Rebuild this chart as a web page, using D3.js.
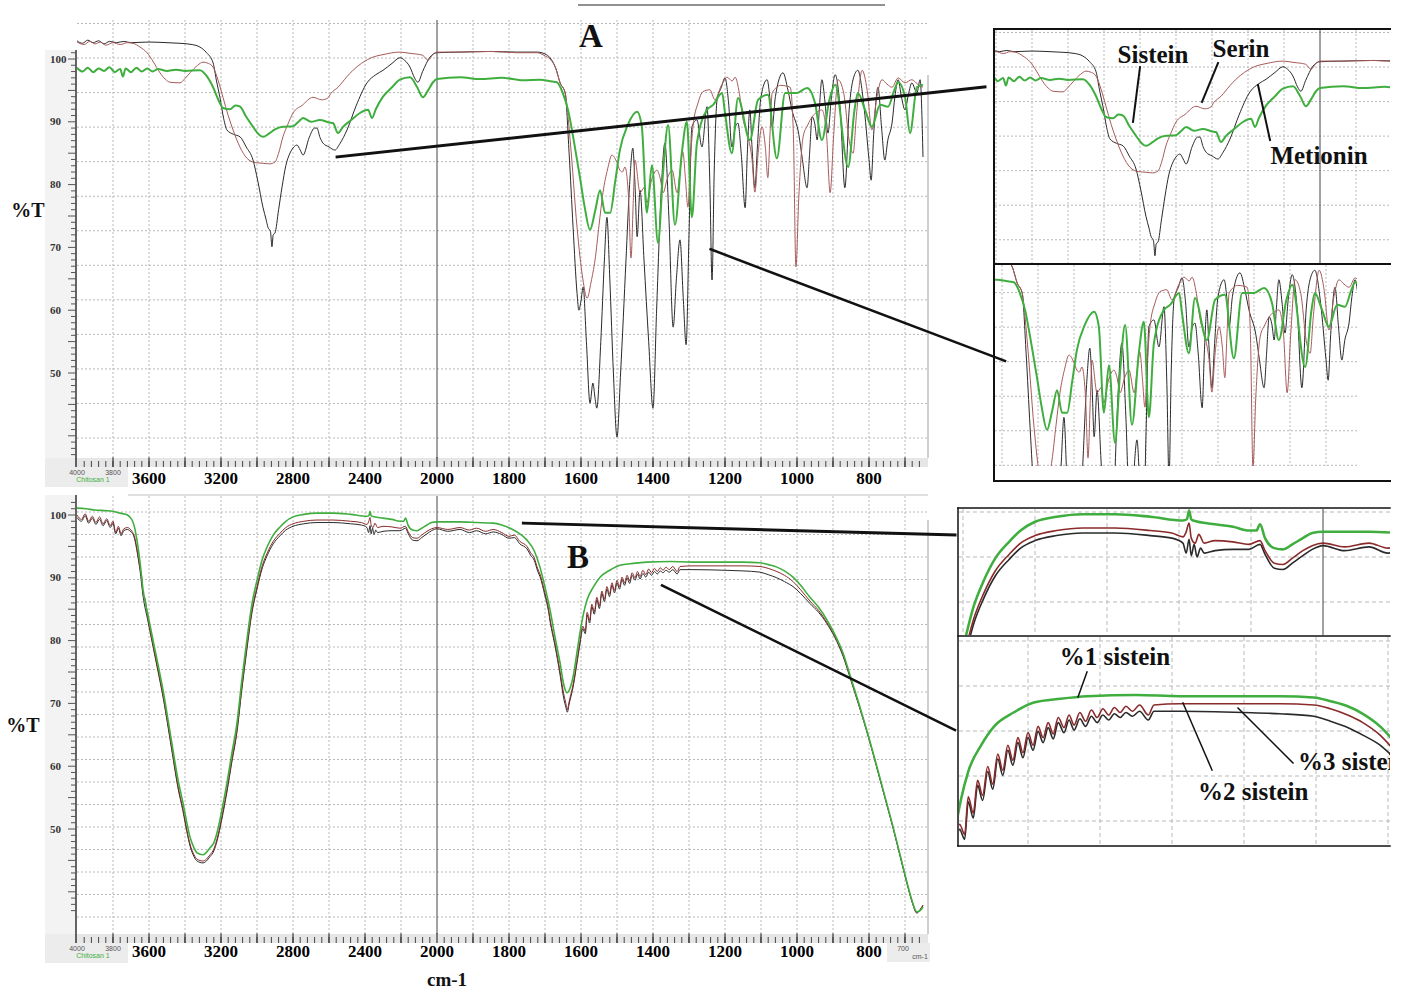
<!DOCTYPE html>
<html>
<head>
<meta charset="utf-8">
<script src="https://cdn.jsdelivr.net/npm/d3@7"></script>
<style>
  body { margin: 0; background: #fff; }
  svg { display: block; }
</style>
</head>
<body>
<svg id="fig" width="1413" height="994"></svg>
<script>
// ---------- data (wavenumber cm-1, %T) ----------
var tickLabelsLeft = [3600, 3200, 2800, 2400, 2000];
var tickLabelsRight = [1800, 1600, 1400, 1200, 1000, 800];
var percentTicks = [100, 90, 80, 70, 60, 50];
var gridLeft = [3800, 3600, 3400, 3200, 3000, 2800, 2600, 2400, 2200];
var gridRight = [1900, 1800, 1700, 1600, 1500, 1400, 1300, 1200, 1100, 1000, 900, 800, 700];

// panel A : amino acids
var sistein = [[4000,98.6],[3970,98.0],[3940,98.6],[3910,97.9],[3880,98.5],[3850,98.1],[3820,98.7],[3790,97.9],[3760,98.4],[3745,97.2],[3730,98.5],[3700,97.9],[3670,98.6],[3640,98.0],[3610,98.5],[3580,98.0],[3550,98.4],[3500,98.1],[3450,98.3],[3400,98.1],[3317,98.2],[3280,97.3],[3244,95.5],[3210,93.2],[3189,92.2],[3150,92.0],[3120,92.6],[3094,92.4],[3060,90.8],[3022,89.2],[2990,88.0],[2967,87.6],[2930,88.2],[2900,88.8],[2856,89.2],[2800,89.3],[2770,90.0],[2744,90.6],[2700,90.0],[2650,90.3],[2600,89.9],[2578,89.8],[2550,88.2],[2522,89.2],[2480,90.2],[2428,91.4],[2383,91.9],[2361,90.6],[2340,92.0],[2300,94.0],[2250,95.5],[2206,96.7],[2150,97.1],[2110,95.5],[2078,93.9],[2050,95.0],[2022,96.3],[2000,96.8],[1936,97.1],[1880,96.8],[1820,97.0],[1760,96.6],[1714,96.7],[1680,96.4],[1667,96.3],[1650,94.5],[1636,91.9],[1620,87.0],[1603,81.2],[1590,76.5],[1575,72.8],[1560,76.0],[1547,79.1],[1533,75.5],[1519,75.5],[1505,80.5],[1492,85.5],[1470,89.5],[1444,91.6],[1431,89.2],[1417,75.5],[1403,83.1],[1386,70.7],[1372,82.0],[1358,89.5],[1339,73.6],[1320,85.0],[1306,90.0],[1292,74.8],[1278,86.6],[1250,91.9],[1233,92.7],[1208,94.6],[1200,91.4],[1181,85.0],[1164,93.8],[1131,87.1],[1108,93.5],[1081,94.3],[1056,84.2],[1033,94.6],[1000,94.6],[972,95.4],[950,93.0],[931,87.1],[910,93.5],[894,95.9],[858,82.8],[840,92.0],[831,94.6],[811,91.9],[792,89.2],[769,92.7],[747,92.4],[730,95.0],[719,96.3],[700,94.0],[686,88.2],[667,95.5],[650,95.9]];

var serin = [[4000,102.7],[3960,102.3],[3930,102.8],[3900,102.4],[3870,102.7],[3840,102.2],[3800,102.6],[3760,102.3],[3720,102.6],[3689,102.5],[3650,101.9],[3611,101.0],[3575,99.5],[3539,97.8],[3510,96.8],[3483,96.3],[3428,96.2],[3400,96.9],[3372,97.8],[3330,99.0],[3300,99.5],[3270,99.3],[3244,98.7],[3215,96.5],[3189,93.9],[3160,91.0],[3133,88.7],[3095,86.0],[3056,84.2],[3010,83.5],[2967,83.4],[2930,83.3],[2900,83.6],[2880,85.0],[2856,87.6],[2830,89.5],[2800,91.4],[2750,92.6],[2689,93.9],[2640,93.5],[2606,93.8],[2590,94.5],[2550,95.5],[2500,97.2],[2467,98.2],[2420,99.3],[2356,100.3],[2300,100.7],[2206,101.1],[2150,100.9],[2080,100.6],[2050,99.8],[2020,100.8],[2000,101.1],[1936,101.1],[1850,101.2],[1780,101.0],[1722,101.0],[1700,100.5],[1686,100.0],[1670,98.5],[1658,96.2],[1644,94.6],[1630,87.0],[1611,73.2],[1595,65.0],[1583,61.9],[1572,64.5],[1561,68.0],[1550,73.5],[1539,78.7],[1526,82.5],[1514,84.7],[1500,83.5],[1492,82.3],[1485,82.0],[1478,82.8],[1468,78.0],[1461,68.3],[1455,77.0],[1450,83.9],[1436,78.7],[1425,79.5],[1417,77.1],[1405,80.5],[1389,82.3],[1380,81.0],[1372,78.7],[1360,81.0],[1347,82.3],[1333,78.7],[1325,82.0],[1317,85.2],[1310,81.0],[1303,76.4],[1296,84.0],[1289,89.2],[1275,93.0],[1261,94.8],[1242,95.1],[1228,93.5],[1210,95.8],[1194,97.1],[1180,96.5],[1172,97.1],[1160,94.5],[1150,90.5],[1136,87.6],[1125,84.0],[1117,78.8],[1108,85.0],[1097,89.2],[1088,86.0],[1081,81.1],[1075,88.0],[1069,94.6],[1045,95.8],[1019,95.5],[1010,88.0],[1003,66.9],[995,78.0],[983,87.6],[970,89.5],[958,90.8],[945,91.5],[931,91.9],[918,88.0],[908,78.7],[898,88.0],[886,96.7],[870,94.5],[855,87.0],[844,85.0],[835,91.0],[819,98.2],[805,95.0],[792,88.7],[778,94.0],[764,96.7],[750,96.0],[736,95.5],[719,97.0],[700,96.2],[681,96.7],[665,96.0],[650,95.5]];

var metionin = [[4000,102.9],[3970,102.5],[3940,103.0],[3910,102.6],[3880,102.9],[3850,102.4],[3820,102.8],[3780,102.6],[3740,102.8],[3700,102.6],[3600,102.7],[3500,102.6],[3428,102.5],[3360,102.3],[3317,101.9],[3280,101.0],[3244,99.4],[3225,96.5],[3206,93.9],[3185,90.5],[3167,88.7],[3130,88.0],[3094,87.6],[3060,86.0],[3022,83.9],[2995,80.5],[2967,76.4],[2950,74.5],[2939,73.2],[2925,72.5],[2917,70.1],[2910,72.0],[2900,72.3],[2880,76.0],[2861,79.6],[2840,83.0],[2817,85.0],[2795,86.0],[2778,86.3],[2760,85.5],[2744,84.7],[2710,87.5],[2680,89.0],[2667,89.0],[2650,87.5],[2633,86.6],[2600,86.0],[2567,85.5],[2540,86.5],[2500,88.7],[2450,92.5],[2389,96.2],[2340,97.5],[2300,98.2],[2250,99.3],[2206,100.2],[2180,99.8],[2150,98.7],[2125,97.0],[2106,96.3],[2080,98.0],[2039,100.3],[2000,101.0],[1936,101.1],[1850,101.2],[1780,101.1],[1722,101.1],[1700,100.8],[1686,100.2],[1670,98.5],[1658,96.2],[1644,94.6],[1633,85.0],[1622,73.2],[1611,62.7],[1606,60.0],[1600,61.5],[1594,63.7],[1585,55.0],[1575,45.2],[1567,48.4],[1561,46.0],[1556,44.4],[1545,55.0],[1535,68.0],[1528,74.8],[1520,65.0],[1510,50.0],[1500,39.8],[1490,50.0],[1475,68.0],[1465,80.0],[1456,85.8],[1450,80.0],[1444,71.7],[1436,79.1],[1425,68.0],[1412,55.0],[1400,44.4],[1390,60.0],[1378,78.0],[1367,86.6],[1356,75.0],[1344,57.3],[1335,65.0],[1325,71.2],[1316,62.0],[1308,54.5],[1300,72.0],[1292,89.2],[1278,90.3],[1264,86.0],[1250,92.4],[1242,80.0],[1236,64.8],[1230,82.0],[1222,93.5],[1210,95.5],[1200,97.0],[1190,93.0],[1181,86.0],[1172,89.0],[1164,89.8],[1155,85.0],[1144,76.3],[1138,85.0],[1131,91.9],[1125,86.0],[1117,79.5],[1110,86.0],[1100,94.0],[1083,96.7],[1075,93.5],[1069,89.2],[1060,94.0],[1039,97.8],[1025,95.0],[1014,91.9],[995,88.0],[985,84.0],[972,79.5],[965,85.0],[958,90.8],[950,89.5],[944,87.1],[938,92.0],[931,96.7],[922,93.0],[914,88.2],[905,93.5],[894,97.5],[880,92.0],[867,79.5],[855,92.0],[843,97.0],[831,98.2],[815,93.0],[800,84.0],[794,80.7],[787,88.0],[775,95.5],[765,89.0],[756,83.9],[748,87.0],[736,89.8],[728,94.0],[719,96.7],[710,94.0],[700,91.9],[690,94.5],[681,96.2],[667,94.6],[658,96.7],[650,84.4]];

// panel B : chitosan with 1, 2, 3 % sistein
var sistein1 = [[4000,101.1],[3950,101.0],[3900,100.8],[3850,100.7],[3800,100.6],[3761,100.3],[3720,100.0],[3694,99.2],[3680,98.0],[3667,96.0],[3650,92.5],[3633,88.1],[3605,84.0],[3578,80.1],[3550,76.2],[3522,72.1],[3495,67.5],[3467,62.6],[3440,58.0],[3411,54.1],[3390,51.0],[3372,48.7],[3350,47.0],[3333,46.2],[3300,45.9],[3261,47.0],[3240,47.8],[3222,49.4],[3195,53.0],[3167,57.3],[3140,62.0],[3111,66.9],[3085,73.5],[3056,80.1],[3030,85.5],[3000,89.6],[2970,93.0],[2944,94.9],[2910,96.8],[2872,98.1],[2840,99.0],[2800,99.7],[2740,100.1],[2667,100.3],[2578,100.3],[2480,100.1],[2389,99.8],[2378,99.9],[2372,100.6],[2366,99.9],[2361,99.8],[2300,99.5],[2250,99.3],[2206,99.0],[2185,99.0],[2175,99.5],[2161,98.4],[2135,97.6],[2111,97.5],[2085,97.9],[2056,98.4],[2030,98.8],[2000,98.9],[1936,98.9],[1890,98.8],[1844,98.7],[1820,98.4],[1797,97.9],[1775,97.2],[1750,96.0],[1730,94.3],[1714,91.7],[1700,88.5],[1686,84.9],[1672,80.5],[1658,76.4],[1648,73.0],[1639,71.7],[1630,72.5],[1622,74.2],[1612,77.8],[1603,81.2],[1593,84.3],[1583,86.5],[1565,88.6],[1547,90.1],[1520,91.2],[1492,92.0],[1455,92.3],[1417,92.5],[1350,92.6],[1289,92.5],[1200,92.5],[1150,92.5],[1103,92.4],[1080,92.1],[1056,91.7],[1035,91.1],[1011,90.1],[990,88.8],[964,86.9],[940,85.3],[917,83.3],[895,81.0],[872,78.0],[850,74.0],[825,69.4],[800,64.5],[778,59.9],[755,55.0],[733,50.3],[712,45.5],[694,41.4],[680,38.5],[667,36.8],[658,37.0],[650,37.6]];

var sistein2 = [[4000,100.0],[3975,99.3],[3955,100.2],[3935,99.0],[3915,99.8],[3895,98.8],[3875,99.7],[3855,98.6],[3835,99.4],[3815,98.3],[3800,99.0],[3785,97.2],[3770,98.2],[3755,97.0],[3740,97.8],[3720,98.0],[3700,97.6],[3690,97.2],[3680,96.5],[3667,94.6],[3650,91.5],[3640,90.0],[3633,87.4],[3625,87.0],[3605,83.3],[3578,79.4],[3550,75.4],[3522,71.3],[3495,66.7],[3467,61.7],[3440,57.0],[3411,53.1],[3390,49.9],[3372,47.6],[3350,45.9],[3333,45.2],[3300,44.9],[3261,45.9],[3240,46.8],[3222,48.4],[3195,52.0],[3167,56.3],[3140,61.0],[3111,65.9],[3085,72.4],[3056,79.0],[3030,84.5],[3000,88.6],[2970,92.0],[2944,93.9],[2910,95.8],[2872,97.1],[2840,98.0],[2800,98.6],[2740,99.0],[2667,99.2],[2578,99.2],[2480,99.0],[2420,98.8],[2389,98.5],[2380,98.9],[2372,99.6],[2366,98.4],[2355,98.0],[2345,98.7],[2330,98.0],[2300,98.2],[2250,98.1],[2206,97.9],[2175,98.2],[2161,97.4],[2135,96.4],[2111,96.3],[2085,96.8],[2056,97.4],[2030,97.8],[2000,98.0],[1970,97.7],[1936,98.0],[1910,97.6],[1890,97.9],[1865,97.4],[1844,97.7],[1820,97.2],[1800,96.6],[1785,96.8],[1770,95.8],[1750,95.0],[1740,94.0],[1730,93.2],[1720,91.4],[1714,90.6],[1700,87.5],[1690,85.0],[1686,83.5],[1672,79.5],[1658,75.0],[1648,71.5],[1642,70.0],[1638,69.0],[1633,70.3],[1622,73.0],[1612,76.5],[1603,79.8],[1595,82.3],[1588,81.5],[1583,84.5],[1576,83.2],[1570,85.8],[1563,84.6],[1556,86.9],[1549,85.5],[1542,87.9],[1535,86.6],[1528,88.6],[1521,87.4],[1514,89.2],[1507,88.0],[1500,89.6],[1493,88.6],[1486,90.1],[1479,89.2],[1472,90.4],[1465,89.5],[1458,90.8],[1450,90.0],[1443,91.0],[1436,90.2],[1428,91.2],[1420,90.5],[1412,91.4],[1404,90.8],[1396,91.5],[1388,91.0],[1380,91.6],[1372,91.2],[1364,91.7],[1355,91.3],[1345,91.8],[1333,91.0],[1325,91.8],[1289,91.9],[1200,91.9],[1150,91.9],[1103,91.8],[1080,91.5],[1056,91.0],[1035,90.4],[1011,89.4],[990,88.1],[964,86.3],[940,84.8],[917,82.9],[895,80.7],[872,77.7],[850,73.8],[825,69.2],[800,64.4],[778,59.8],[755,54.9],[733,50.2],[712,45.4],[694,41.3],[680,38.4],[667,36.7],[658,37.2],[650,37.9]];

var sistein3 = [[4000,99.6],[3975,99.0],[3955,99.9],[3935,98.7],[3915,99.5],[3895,98.5],[3875,99.3],[3855,98.3],[3835,99.1],[3815,98.0],[3800,98.7],[3785,97.0],[3770,97.9],[3755,96.7],[3740,97.5],[3720,97.7],[3700,97.3],[3690,97.0],[3680,96.2],[3667,94.3],[3650,91.2],[3633,87.1],[3605,83.0],[3578,79.1],[3550,75.1],[3522,71.0],[3495,66.4],[3467,61.4],[3440,56.7],[3411,52.8],[3390,49.6],[3372,47.3],[3350,45.6],[3333,44.9],[3300,44.6],[3261,45.6],[3240,46.5],[3222,48.1],[3195,51.6],[3167,55.9],[3140,60.6],[3111,65.5],[3085,72.0],[3056,78.6],[3030,84.1],[3000,88.2],[2970,91.6],[2944,93.5],[2910,95.4],[2872,96.7],[2840,97.6],[2800,98.2],[2740,98.6],[2667,98.8],[2578,98.8],[2480,98.6],[2420,98.4],[2389,98.0],[2380,97.2],[2372,98.3],[2366,97.0],[2358,97.9],[2350,96.9],[2340,97.6],[2330,97.2],[2300,97.4],[2250,97.5],[2206,97.5],[2175,97.9],[2161,97.1],[2135,96.0],[2111,95.9],[2085,96.4],[2056,97.0],[2030,97.5],[2000,97.8],[1970,97.4],[1936,97.7],[1910,97.2],[1890,97.5],[1865,97.0],[1844,97.3],[1820,96.9],[1800,96.3],[1785,96.4],[1770,95.4],[1750,94.6],[1740,93.6],[1730,92.8],[1720,91.0],[1714,90.2],[1700,87.1],[1690,84.6],[1686,83.1],[1672,79.1],[1658,74.5],[1648,70.8],[1642,69.4],[1638,68.6],[1633,69.9],[1622,72.6],[1612,76.1],[1603,79.4],[1595,81.9],[1588,81.1],[1583,84.1],[1576,82.8],[1570,85.4],[1563,84.2],[1556,86.5],[1549,85.1],[1542,87.5],[1535,86.2],[1528,88.2],[1521,87.0],[1514,88.8],[1507,87.6],[1500,89.2],[1493,88.2],[1486,89.7],[1479,88.8],[1472,90.0],[1465,89.1],[1458,90.4],[1450,89.6],[1443,90.6],[1436,89.8],[1428,90.7],[1420,90.1],[1412,90.9],[1404,90.4],[1396,91.0],[1388,90.6],[1380,91.1],[1372,90.8],[1364,91.2],[1355,90.9],[1345,91.3],[1333,90.6],[1325,91.3],[1289,91.3],[1200,91.2],[1150,91.1],[1103,90.9],[1080,90.5],[1056,90.0],[1035,89.4],[1011,88.6],[990,87.5],[964,85.9],[940,84.5],[917,82.7],[895,80.5],[872,77.5],[850,73.6],[825,69.1],[800,64.3],[778,59.7],[755,54.8],[733,50.1],[712,45.3],[694,41.2],[680,38.3],[667,36.6],[658,37.1],[650,37.8]];

var GREEN = "#3fae3f", RED = "#a85a5a", BLACK = "#2a2a2a";
var seriesA = [
    { data: metionin, color: BLACK, width: 1 },
    { data: serin, color: RED, width: 1 },
    { data: sistein, color: GREEN, width: 2 }
];
var seriesB = [
    { data: sistein3, color: BLACK, width: 1 },
    { data: sistein2, color: "#8a2a2a", width: 1 },
    { data: sistein1, color: GREEN, width: 1.6 }
];

var SERIF = "'Liberation Serif','Times New Roman',serif";
var SANS = "'Liberation Sans',Arial,sans-serif";

var svg = d3.select("#fig");
var defs = svg.append("defs");
var clipCount = 0;

// scales: the spectrometer axis changes scale at 2000 cm-1
var xA = d3.scaleLinear().domain([4000, 2000, 650]).range([77, 437, 923]);
var yA = d3.scaleLinear().domain([100, 50]).range([59, 373]);
var rowA = d3.scaleLinear().domain([0, 12]).range([23.5, 438]);
var xB = xA.copy();
var yB = d3.scaleLinear().domain([100, 50]).range([515, 829]);
var rowB = d3.scaleLinear().domain([0, 18]).range([512, 917]);

function shifted(s, k, off) {
    return s.copy().range(s.range().map(function (r) { return r * k + off; }));
}

function addClip(x, y, w, h) {
    var id = "clip" + (clipCount++);
    defs.append("clipPath").attr("id", id)
        .append("rect").attr("x", x).attr("y", y).attr("width", w).attr("height", h);
    return "url(#" + id + ")";
}

// draws grid + spectra of one view (panel or inset)
function drawView(xs, ys, rows, nRows, series, box, opt) {
    var v = svg.append("g").attr("clip-path", addClip(box.x, box.y, box.w, box.h));

    v.selectAll("line.h").data(d3.range(nRows + 1)).join("line")
        .attr("x1", box.x).attr("x2", box.x + box.w)
        .attr("y1", function (d) { return rows(d); })
        .attr("y2", function (d) { return rows(d); })
        .attr("stroke", "#b9b9b9").attr("stroke-width", 1)
        .attr("stroke-dasharray", opt.dash);

    v.selectAll("line.v").data(gridLeft.concat(gridRight)).join("line")
        .attr("x1", function (d) { return xs(d); })
        .attr("x2", function (d) { return xs(d); })
        .attr("y1", box.y).attr("y2", box.y + box.h)
        .attr("stroke", "#b9b9b9").attr("stroke-width", 1)
        .attr("stroke-dasharray", opt.dash);

    // solid line at the scale change
    v.append("line")
        .attr("x1", xs(2000)).attr("x2", xs(2000))
        .attr("y1", box.y).attr("y2", box.y + box.h)
        .attr("stroke", "#444").attr("stroke-width", 1);

    var line = d3.line()
        .x(function (d) { return xs(d[0]); })
        .y(function (d) { return ys(d[1]); })
        .curve(d3.curveMonotoneX);

    series.forEach(function (s) {
        v.append("path")
            .attr("d", line(s.data))
            .attr("fill", "none")
            .attr("stroke", s.color)
            .attr("stroke-width", s.width * opt.lw)
            .attr("stroke-linejoin", "round");
    });
}

// axis furniture for a main panel
function drawAxes(xs, ys, top, plotBottom, labelY) {
    var bandTop = plotBottom, bandBottom = plotBottom + 9;
    // left gray margin and small corner box
    svg.append("rect").attr("x", 45).attr("y", top).attr("width", 31)
        .attr("height", bandBottom - top).attr("fill", "#f3f3f3");
    svg.append("rect").attr("x", 45).attr("y", bandTop).attr("width", 83)
        .attr("height", 29).attr("fill", "#ececec");
    svg.append("rect").attr("x", 76).attr("y", bandTop).attr("width", 852)
        .attr("height", 9).attr("fill", "#e6e6e6");

    // x ticks
    var minor = d3.range(3960, 2000, -40).concat(d3.range(1980, 650, -20));
    svg.append("g").selectAll("line").data(minor).join("line")
        .attr("x1", function (d) { return xs(d); }).attr("x2", function (d) { return xs(d); })
        .attr("y1", bandTop + 3).attr("y2", bandBottom)
        .attr("stroke", "#444").attr("stroke-width", 1);
    svg.append("g").selectAll("line").data(gridLeft.concat([2000], gridRight)).join("line")
        .attr("x1", function (d) { return xs(d); }).attr("x2", function (d) { return xs(d); })
        .attr("y1", bandTop - 1).attr("y2", bandBottom)
        .attr("stroke", "#333").attr("stroke-width", 1.2);

    // y axis
    svg.append("line").attr("x1", 76).attr("x2", 76).attr("y1", top).attr("y2", bandBottom)
        .attr("stroke", "#333").attr("stroke-width", 1.5);
    var yMinor = d3.range(37, 106).filter(function (t) { return ys(t) > top + 2 && ys(t) < plotBottom; });
    svg.append("g").selectAll("line").data(yMinor).join("line")
        .attr("x1", function (d) { return d % 5 === 0 ? 68 : 71; }).attr("x2", 76)
        .attr("y1", function (d) { return ys(d); }).attr("y2", function (d) { return ys(d); })
        .attr("stroke", "#555").attr("stroke-width", 1);

    svg.append("g").selectAll("text").data(percentTicks).join("text")
        .attr("x", 50).attr("y", function (d) { return ys(d) + 3.5; })
        .attr("font-family", SERIF).attr("font-weight", "bold").attr("font-size", 11)
        .attr("fill", "#333").text(function (d) { return d; });

    svg.append("g").selectAll("text").data(tickLabelsLeft.concat(tickLabelsRight)).join("text")
        .attr("x", function (d) { return xs(d); }).attr("y", labelY)
        .attr("text-anchor", "middle")
        .attr("font-family", SERIF).attr("font-weight", "bold").attr("font-size", 17)
        .text(function (d) { return d; });

    svg.append("text").attr("x", xs(4000)).attr("y", bandBottom + 8).attr("text-anchor", "middle")
        .attr("font-family", SANS).attr("font-size", 7).attr("fill", "#555").text("4000");
    svg.append("text").attr("x", xs(3800)).attr("y", bandBottom + 8).attr("text-anchor", "middle")
        .attr("font-family", SANS).attr("font-size", 7).attr("fill", "#555").text("3800");
    svg.append("text").attr("x", 93).attr("y", bandBottom + 15).attr("text-anchor", "middle")
        .attr("font-family", SANS).attr("font-size", 7).attr("fill", "#3fae3f").text("Chitosan 1");

    // right edge of the spectrum window
    svg.append("line").attr("x1", 928).attr("x2", 928).attr("y1", top + 25).attr("y2", plotBottom)
        .attr("stroke", "#cfcfcf").attr("stroke-width", 2);
}

// ---------- panel A ----------
drawAxes(xA, yA, 50, 458, 484);
drawView(xA, yA, rowA, 12, seriesA, { x: 77, y: 20, w: 851, h: 438 }, { dash: "2,2", lw: 1 });

// ---------- panel B ----------
drawAxes(xB, yB, 495, 934, 957);
svg.append("line").attr("x1", 128).attr("x2", 928).attr("y1", 495).attr("y2", 495)
    .attr("stroke", "#d5d5d5").attr("stroke-width", 1.5);
drawView(xB, yB, rowB, 18, seriesB, { x: 77, y: 496, w: 851, h: 438 }, { dash: "2,2", lw: 1 });
svg.append("rect").attr("x", 887).attr("y", 943).attr("width", 43).attr("height", 19).attr("fill", "#ececec");
svg.append("text").attr("x", 903).attr("y", 951).attr("text-anchor", "middle")
    .attr("font-family", SANS).attr("font-size", 7).attr("fill", "#555").text("700");
svg.append("text").attr("x", 920).attr("y", 959).attr("text-anchor", "middle")
    .attr("font-family", SANS).attr("font-size", 7).attr("fill", "#555").text("cm-1");

// stray rule at the top of the figure
svg.append("line").attr("x1", 578).attr("x2", 885).attr("y1", 5).attr("y2", 5)
    .attr("stroke", "#222").attr("stroke-width", 1);

// ---------- insets (crops / 2x zooms of the panels) ----------
drawView(shifted(xA, 1, 883), shifted(yA, 1, 9), shifted(rowA, 1, 9), 12, seriesA,
    { x: 995, y: 30, w: 395, h: 233 }, { dash: "2,2", lw: 1 });
drawView(shifted(xA, 1, 457), shifted(yA, 1, 200), shifted(rowA, 1, 200), 12, seriesA,
    { x: 995, y: 265, w: 362, h: 201 }, { dash: "2,2", lw: 1 });
drawView(shifted(xB, 2, 449), shifted(yB, 2, -512), shifted(rowB, 2, -512), 18, seriesB,
    { x: 959, y: 509, w: 431, h: 126 }, { dash: "4,3", lw: 1.6 });
drawView(shifted(xB, 2, -206), shifted(yB, 2, -428), shifted(rowB, 2, -428), 18, seriesB,
    { x: 959, y: 637, w: 431, h: 208 }, { dash: "4,3", lw: 1.6 });

function rule(x1, y1, x2, y2, w) {
    svg.append("line").attr("x1", x1).attr("y1", y1).attr("x2", x2).attr("y2", y2)
        .attr("stroke", "#111").attr("stroke-width", w).attr("stroke-linecap", "square");
}
// inset frames
rule(994, 29, 1390, 29, 2); rule(994, 29, 994, 481, 2);
rule(994, 264, 1390, 264, 2); rule(994, 481, 1390, 481, 2);
rule(958, 508, 1390, 508, 1.5); rule(958, 508, 958, 846, 1.5);
rule(958, 636, 1390, 636, 1.5); rule(958, 846, 1390, 846, 1.5);

// pointer lines from the panels to the insets
rule(xA(2555), yA(84.4), 985, 87, 3);
rule(xA(1240), yA(69.7), 1005, 361, 2.5);
rule(xB(1760), yB(98.7), 955, 535, 3);
rule(xB(1375), yB(88.8), 955, 730, 2.5);

// annotation leaders
rule(1140, 67, 1133, 122, 2);
rule(1218, 63, 1202, 102, 2);
rule(1258, 85, 1270, 140, 2);
rule(1087, 672, 1078, 697, 1.5);
rule(1183, 703, 1212, 770, 1.5);
rule(1238, 708, 1293, 763, 1.5);

function label(txt, x, y, size, anchor, clip) {
    var t = svg.append("text").attr("x", x).attr("y", y)
        .attr("text-anchor", anchor || "middle")
        .attr("font-family", SERIF).attr("font-weight", "bold").attr("font-size", size)
        .attr("fill", "#111").text(txt);
    if (clip) t.attr("clip-path", clip);
    return t;
}
label("A", 591, 47, 33);
label("B", 578, 568, 33);
label("%T", 28, 217, 20);
label("%T", 23, 732, 20);
label("cm-1", 447, 986, 19);
label("Sistein", 1153, 63, 25);
label("Serin", 1241, 57, 25);
label("Metionin", 1319, 164, 25);
label("%1 sistein", 1115, 665, 25);
label("%2 sistein", 1198, 800, 25, "start");
label("%3 sistein", 1298, 770, 25, "start", addClip(0, 0, 1390, 994));
</script>
</body>
</html>
